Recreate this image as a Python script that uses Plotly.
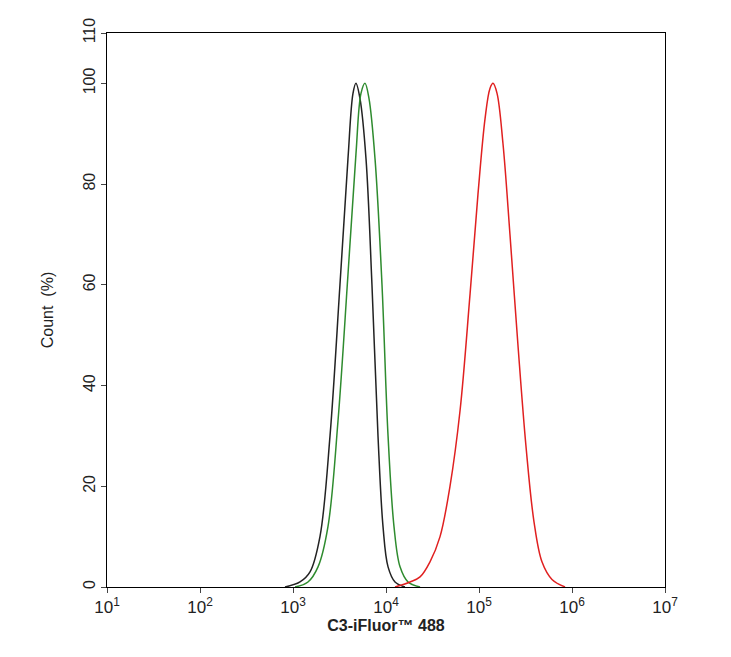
import plotly.graph_objects as go

black_exp = [2.914,3.075,3.183,3.290,3.398,3.505,3.591,3.645,3.677,3.720,3.785,3.849,3.914,3.968,4.022,4.097,4.204]
black_y = [0,1,3,10,30,60,85,98,100,97,85,60,30,12,4,1,0]
green_exp = [3.022,3.161,3.269,3.376,3.484,3.591,3.677,3.731,3.774,3.817,3.882,3.957,4.022,4.086,4.151,4.237,4.366]
green_y = [0,1,4,12,33,62,86,98,100,97,85,60,30,12,4,1,0]
red_exp = [4.097,4.258,4.366,4.473,4.581,4.688,4.796,4.903,4.989,5.065,5.118,5.151,5.194,5.258,5.333,5.419,5.505,5.591,5.677,5.785,5.925]
red_y = [0,1,2,5,10,20,35,58,78,93,99,100,98,88,70,48,28,13,5,1.5,0]
x_ticks = [10**k for k in range(1, 8)]
x_ticktext = [f"10<sup>{k}</sup>" for k in range(1, 8)]
y_ticks = [0, 20, 40, 60, 80, 100, 110]

fig = go.Figure()
for ex, ys, col in [(black_exp, black_y, "#222222"), (green_exp, green_y, "#2e8b2e"), (red_exp, red_y, "#e02020")]:
    fig.add_trace(go.Scatter(x=[10**e for e in ex], y=ys, mode="lines",
                             line=dict(color=col, width=1.5, shape="spline"), showlegend=False))

fig.update_layout(width=731, height=657, plot_bgcolor="white", paper_bgcolor="white",
                  margin=dict(l=99, r=74, t=25, b=78, autoexpand=False),
                  font=dict(family="Liberation Sans, Arial", size=15, color="#222"))
fig.update_xaxes(type="log", range=[1, 7], tickvals=x_ticks, ticktext=x_ticktext, automargin=False,
                 tickfont=dict(size=17),
                 showline=True, linecolor="black", mirror=True, ticks="outside", showgrid=False,
                 title=dict(text="<b>C3-iFluor™ 488</b>", standoff=2, font=dict(size=16)))
fig.update_yaxes(range=[0, 110], tickvals=y_ticks, tickangle=-90, automargin=False,
                 tickfont=dict(size=16),
                 showline=True, linecolor="black", mirror=True, ticks="outside", showgrid=False,
                 zeroline=False, title=dict(text="Count  (%)", font=dict(size=16), standoff=22))
fig.write_html("out.html")
